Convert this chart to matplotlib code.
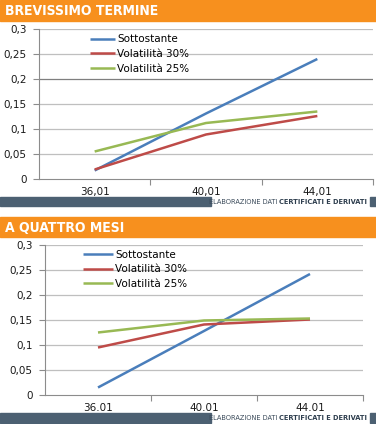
import matplotlib
matplotlib.use("Agg")
import matplotlib.pyplot as plt
from matplotlib.patches import Rectangle
from matplotlib import font_manager

# data
categories_top = ["36,01", "40,01", "44,01"]
categories_bottom = ["36.01", "40.01", "44.01"]
series_names = ["Sottostante", "Volatilità 30%", "Volatilità 25%"]

top_sottostante = [0.017, 0.131, 0.240]
top_vol30 = [0.019, 0.089, 0.126]
top_vol25 = [0.055, 0.112, 0.135]

bottom_sottostante = [0.015, 0.128, 0.242]
bottom_vol30 = [0.095, 0.141, 0.151]
bottom_vol25 = [0.125, 0.149, 0.153]

y_ticks = [0, 0.05, 0.1, 0.15, 0.2, 0.25, 0.3]
y_labels = ["0", "0,05", "0,1", "0,15", "0,2", "0,25", "0,3"]

titles = ["BREVISSIMO TERMINE", "A QUATTRO MESI"]
footer_normal = "ELABORAZIONE DATI"
footer_bold = "CERTIFICATI E DERIVATI"

colors = ["#4A7EBB", "#BE4B48", "#98B954"]
ORANGE = "#F7901E"
SLATE = "#4C6072"

# pick a narrow font if one is installed
fonts = font_manager.fontManager.ttflist
names = {f.name for f in fonts}
if "Liberation Sans Narrow" in names:
    narrow = dict(family="Liberation Sans Narrow")
    title_size, foot_size = 11.5, 6.0
elif any(f.name == "DejaVu Sans" and f.stretch == "condensed" for f in fonts):
    narrow = dict(family="DejaVu Sans", fontstretch="condensed")
    title_size, foot_size = 10.0, 5.3
else:
    narrow = dict(family="DejaVu Sans")
    title_size, foot_size = 9.5, 5.0

W, H = 376, 424
fig = plt.figure(figsize=(W / 100, H / 100), dpi=100)
renderer = fig.canvas.get_renderer()


def box(x0, y0, x1, y1):
    # pixel box (top-left origin) -> figure coords
    return [x0 / W, 1 - y1 / H, (x1 - x0) / W, (y1 - y0) / H]


def fx(x):
    return x / W


def fy(y):
    return 1 - y / H


def panel(ax_box, head_y, foot_y, title, cats, series, dark_line, leg_anchor, handle_len):
    # header band
    fig.patches.append(Rectangle((0, fy(head_y[1])), 1, (head_y[1] - head_y[0]) / H,
                                 transform=fig.transFigure, color=ORANGE, zorder=0))
    fig.text(fx(5), fy((head_y[0] + head_y[1]) / 2 + 0.5), title, color="white",
             fontsize=title_size, fontweight="bold", va="center", ha="left", **narrow)
    # footer band
    fh = (foot_y[1] - foot_y[0]) / H
    fig.patches.append(Rectangle((0, fy(foot_y[1])), fx(211), fh,
                                 transform=fig.transFigure, color=SLATE, zorder=0))
    fig.patches.append(Rectangle((fx(370), fy(foot_y[1])), 1 - fx(370), fh,
                                 transform=fig.transFigure, color=SLATE, zorder=0))
    ym = fy((foot_y[0] + foot_y[1]) / 2)
    tb = fig.text(fx(367), ym, footer_bold, color="#2e3e4e", fontsize=foot_size,
                  fontweight="bold", va="center", ha="right", **narrow)
    bb = tb.get_window_extent(renderer)
    fig.text(bb.x0 / W - fx(2), ym, footer_normal, color="#3a4a5a", fontsize=foot_size,
             va="center", ha="right", **narrow)

    ax = fig.add_axes(ax_box)
    x = range(len(cats))
    for vals, name, c in zip(series, series_names, colors):
        ax.plot(x, vals, color=c, lw=1.8, label=name, solid_capstyle="butt", zorder=3)

    ax.set_xlim(-0.5, len(cats) - 0.5)
    ax.set_ylim(0, 0.3)
    ax.set_yticks(y_ticks)
    ax.set_yticklabels(y_labels)
    for t in y_ticks[1:]:
        col = "#7f7f7f" if (dark_line and t == 0.2) else "#bfbfbf"
        ax.axhline(t, color=col, lw=0.9, zorder=1)

    ax.set_xticks([i + 0.5 for i in range(len(cats))])
    ax.set_xticklabels([])
    ax.set_xticks(list(x), minor=True)
    ax.set_xticklabels(cats, minor=True)
    ax.tick_params(axis="x", which="major", length=4, color="#8c8c8c", width=0.8)
    ax.tick_params(axis="x", which="minor", length=0, pad=6, labelsize=7.5, labelcolor="#1a1a1a")
    ax.tick_params(axis="y", length=4, color="#8c8c8c", width=0.8, pad=5,
                   labelsize=7.5, labelcolor="#1a1a1a")

    for s in ["top", "right"]:
        ax.spines[s].set_visible(False)
    for s in ["left", "bottom"]:
        ax.spines[s].set_color("#8c8c8c")
        ax.spines[s].set_linewidth(0.8)

    ax.legend(loc="upper left", bbox_to_anchor=leg_anchor, frameon=False, fontsize=7.5,
              handlelength=handle_len, handletextpad=0.2, borderpad=0, borderaxespad=0,
              labelspacing=0.45)
    return ax


panel(box(39, 29, 373, 179), (0, 21), (197, 206), titles[0], categories_top,
      [top_sottostante, top_vol30, top_vol25], True, (0.153, 0.965), 2.4)
panel(box(45, 245, 363, 395), (217, 237), (413, 423), titles[1], categories_bottom,
      [bottom_sottostante, bottom_vol30, bottom_vol25], False, (0.12, 0.97), 2.9)

fig.savefig("out.png", dpi=100, facecolor="white")
